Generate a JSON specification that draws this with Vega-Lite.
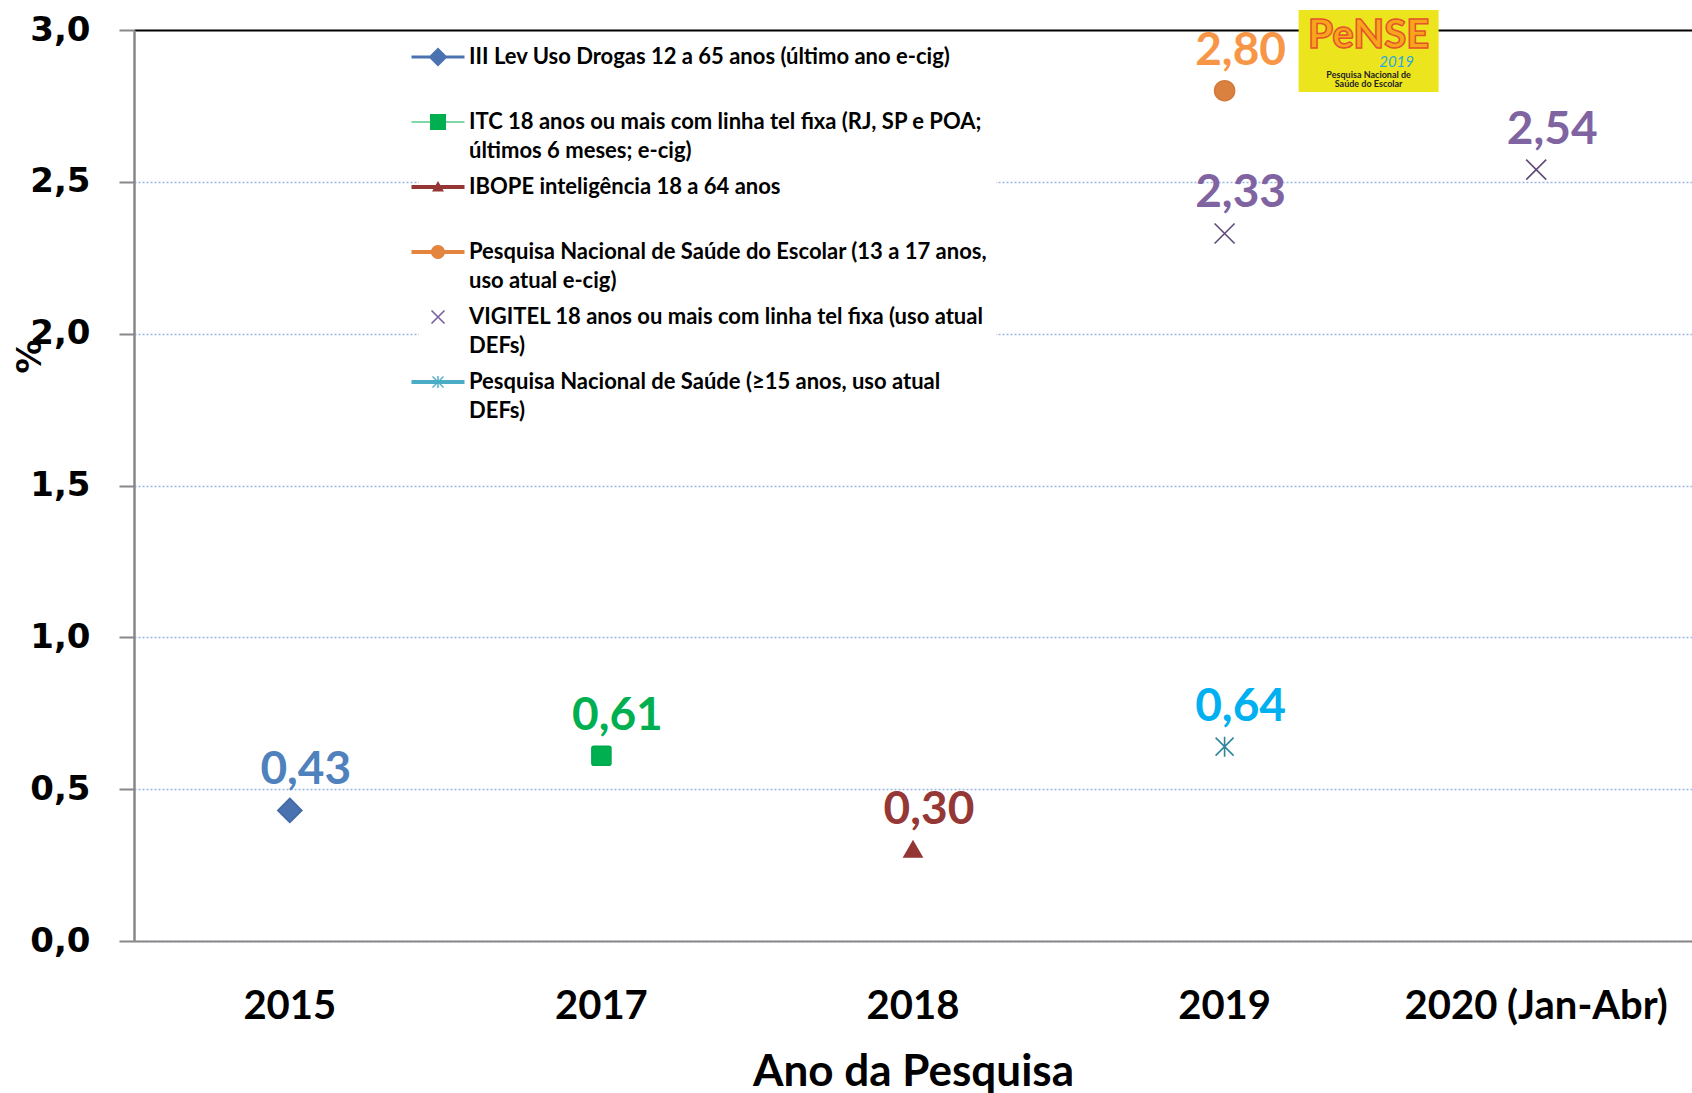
{
  "$schema": "https://vega.github.io/schema/vega-lite/v6.json",
  "width": 1558,
  "height": 911,
  "autosize": "none",
  "padding": {"left": 134, "top": 30, "right": 0, "bottom": 152},
  "background": "white",
  "config": {
    "view": {"stroke": null},
    "locale": {"number": {"decimal": ",", "thousands": ".", "grouping": [3], "currency": ["R$", ""]}},
    "style": {"guide-label": {"lineHeight": 29}}
  },
  "datasets": {
    "pontos": [
      {"ano": "2015", "serie": "III Lev Uso Drogas 12 a 65 anos (último ano e-cig)", "valor": 0.43},
      {"ano": "2017", "serie": "ITC 18 anos ou mais com linha tel fixa (RJ, SP e POA; últimos 6 meses; e-cig)", "valor": 0.61},
      {"ano": "2018", "serie": "IBOPE inteligência 18 a 64 anos", "valor": 0.30},
      {"ano": "2019", "serie": "Pesquisa Nacional de Saúde do Escolar (13 a 17 anos, uso atual e-cig)", "valor": 2.80},
      {"ano": "2019", "serie": "VIGITEL 18 anos ou mais com linha tel fixa (uso atual DEFs)", "valor": 2.33},
      {"ano": "2020 (Jan-Abr)", "serie": "VIGITEL 18 anos ou mais com linha tel fixa (uso atual DEFs)", "valor": 2.54},
      {"ano": "2019", "serie": "Pesquisa Nacional de Saúde (≥15 anos, uso atual DEFs)", "valor": 0.64}
    ],
    "logo": [
      {"ano": "2019", "topo": 3.066, "base": 2.796, "marca": "PeNSE", "edicao": "2019", "sub1": "Pesquisa Nacional de", "sub2": "Saúde do Escolar"}
    ]
  },
  "encoding": {
    "x": {
      "field": "ano", "type": "nominal",
      "scale": {"domain": ["2015", "2017", "2018", "2019", "2020 (Jan-Abr)"], "paddingInner": 0, "paddingOuter": 0},
      "axis": {
        "labelFont": "Lato", "labelFontSize": 40, "labelFontWeight": "bold", "labelColor": "black",
        "labelAngle": 0, "ticks": false, "labelPadding": 45, "labelLimit": 500,
        "domainColor": "#878787", "domainWidth": 2, "grid": false,
        "titleFont": "Lato", "titleFontSize": 44, "titleFontWeight": "bold", "titleColor": "black", "titlePadding": 24
      },
      "title": "Ano da Pesquisa"
    },
    "y": {
      "field": "valor", "type": "quantitative", "title": "%",
      "scale": {"domain": [0, 3]},
      "axis": {
        "values": [0, 0.5, 1, 1.5, 2, 2.5, 3], "format": ".1f",
        "labelFont": "DejaVu Sans", "labelFontWeight": "bold", "labelFontSize": 34, "labelColor": "black",
        "labelPadding": 29, "tickSize": 15, "tickColor": "#878787", "tickWidth": 2,
        "domainColor": "#878787", "domainWidth": 2.5,
        "grid": true,
        "gridColor": {"condition": {"test": "datum.value == 3", "value": "black"}, "value": "#9ab6e2"},
        "gridDash": {"condition": {"test": "datum.value == 3", "value": [1, 0]}, "value": [2, 2]},
        "gridWidth": {"condition": {"test": "datum.value == 3", "value": 2}, "value": 1.3},
        "titleFont": "DejaVu Sans", "titleFontSize": 34, "titleFontWeight": "bold", "titleColor": "black",
        "titleX": -104, "titleY": 326, "titleAlign": "center", "titleBaseline": "middle"
      }
    }
  },
  "resolve": {"scale": {"color": "independent", "shape": "independent", "fill": "independent", "stroke": "independent"}},
  "layer": [
    {
      "data": {"name": "pontos"},
      "mark": {"type": "point", "size": 400, "strokeWidth": 1.6, "opacity": 1},
      "encoding": {
        "shape": {
          "field": "serie", "type": "nominal", "legend": null,
          "scale": {
            "domain": ["III Lev Uso Drogas 12 a 65 anos (último ano e-cig)", "ITC 18 anos ou mais com linha tel fixa (RJ, SP e POA; últimos 6 meses; e-cig)", "IBOPE inteligência 18 a 64 anos", "Pesquisa Nacional de Saúde do Escolar (13 a 17 anos, uso atual e-cig)", "VIGITEL 18 anos ou mais com linha tel fixa (uso atual DEFs)", "Pesquisa Nacional de Saúde (≥15 anos, uso atual DEFs)"],
            "range": [
              "M0,-1.2L1.2,0L0,1.2L-1.2,0Z",
              "M-0.75,-0.95H0.75A0.2,0.2 0 0 1 0.95,-0.75V0.75A0.2,0.2 0 0 1 0.75,0.95H-0.75A0.2,0.2 0 0 1 -0.95,0.75V-0.75A0.2,0.2 0 0 1 -0.75,-0.95Z",
              "M0,-0.85L0.9,0.7H-0.9Z",
              "circle",
              "M-1,-1L1,1M-1,1L1,-1",
              "M0,-1V1M-0.9,-0.9L0.9,0.9M-0.9,0.9L0.9,-0.9"
            ]
          }
        },
        "fill": {
          "field": "serie", "type": "nominal", "legend": null,
          "scale": {
            "domain": ["III Lev Uso Drogas 12 a 65 anos (último ano e-cig)", "ITC 18 anos ou mais com linha tel fixa (RJ, SP e POA; últimos 6 meses; e-cig)", "IBOPE inteligência 18 a 64 anos", "Pesquisa Nacional de Saúde do Escolar (13 a 17 anos, uso atual e-cig)", "VIGITEL 18 anos ou mais com linha tel fixa (uso atual DEFs)", "Pesquisa Nacional de Saúde (≥15 anos, uso atual DEFs)"],
            "range": ["#4a72b0", "#00b050", "#943634", "#db8140", "transparent", "transparent"]
          }
        },
        "stroke": {
          "field": "serie", "type": "nominal", "legend": null,
          "scale": {
            "domain": ["III Lev Uso Drogas 12 a 65 anos (último ano e-cig)", "ITC 18 anos ou mais com linha tel fixa (RJ, SP e POA; últimos 6 meses; e-cig)", "IBOPE inteligência 18 a 64 anos", "Pesquisa Nacional de Saúde do Escolar (13 a 17 anos, uso atual e-cig)", "VIGITEL 18 anos ou mais com linha tel fixa (uso atual DEFs)", "Pesquisa Nacional de Saúde (≥15 anos, uso atual DEFs)"],
            "range": ["#4169a6", "#00a84c", "#943634", "#d27a3a", "#604a7b", "#31859c"]
          }
        }
      }
    },
    {
      "data": {"name": "pontos"},
      "mark": {"type": "point", "size": 400, "filled": true, "opacity": 0},
      "encoding": {
        "color": {
          "field": "serie", "type": "nominal",
          "scale": {
            "domain": ["III Lev Uso Drogas 12 a 65 anos (último ano e-cig)", "ITC 18 anos ou mais com linha tel fixa (RJ, SP e POA; últimos 6 meses; e-cig)", "IBOPE inteligência 18 a 64 anos", "Pesquisa Nacional de Saúde do Escolar (13 a 17 anos, uso atual e-cig)", "VIGITEL 18 anos ou mais com linha tel fixa (uso atual DEFs)", "Pesquisa Nacional de Saúde (≥15 anos, uso atual DEFs)"],
            "range": ["#4a72b0", "#00b050", "#943634", "#e3843f", "#7a5fa0", "#4bacc6"]
          },
          "legend": {
            "orient": "none", "legendX": 285, "legendY": 8, "padding": 8, "fillColor": "white", "title": null,
            "labelFont": "Lato", "labelFontSize": 22, "labelFontWeight": "bold", "labelColor": "black", "labelLimit": 700,
            "labelOffset": 20, "symbolSize": 400, "symbolOpacity": 1, "symbolStrokeWidth": 0, "rowPadding": 14,
            "labelExpr": "length(datum.label) > 50 ? [substring(datum.label, 0, lastindexof(substring(datum.label, 0, 54), ' ')), substring(datum.label, lastindexof(substring(datum.label, 0, 54), ' ') + 1)] : [datum.label, ' ']"
          }
        },
        "shape": {
          "field": "serie", "type": "nominal",
          "scale": {
            "domain": ["III Lev Uso Drogas 12 a 65 anos (último ano e-cig)", "ITC 18 anos ou mais com linha tel fixa (RJ, SP e POA; últimos 6 meses; e-cig)", "IBOPE inteligência 18 a 64 anos", "Pesquisa Nacional de Saúde do Escolar (13 a 17 anos, uso atual e-cig)", "VIGITEL 18 anos ou mais com linha tel fixa (uso atual DEFs)", "Pesquisa Nacional de Saúde (≥15 anos, uso atual DEFs)"],
            "range": [
              "M-2.65,-0.15H2.65V0.15H-2.65Z M0,-0.95L0.95,0L0,0.95L-0.95,0Z",
              "M-2.65,-0.05H2.65V0.05H-2.65Z M-0.8,-0.8H0.8V0.8H-0.8Z",
              "M-2.65,-0.2H2.65V0.2H-2.65Z M0,-0.6L0.6,0.45H-0.6Z",
              "M-2.65,-0.2H2.65V0.2H-2.65Z M-0.7,0A0.7,0.7 0 1,1 0.7,0A0.7,0.7 0 1,1 -0.7,0Z",
              "M-0.593,-0.707L0.707,0.593L0.593,0.707L-0.707,-0.593Z M-0.593,0.707L-0.707,0.593L0.593,-0.707L0.707,-0.593Z",
              "M-2.65,-0.2H2.65V0.2H-2.65Z M-0.07,-0.6H0.07V0.6H-0.07Z M-0.5005,-0.5995L0.5995,0.5005L0.5005,0.5995L-0.5995,-0.5005Z M-0.5005,0.5995L-0.5995,0.5005L0.5005,-0.5995L0.5995,-0.5005Z"
            ]
          },
          "legend": {
            "orient": "none", "legendX": 285, "legendY": 8, "padding": 8, "fillColor": "white", "title": null,
            "labelFont": "Lato", "labelFontSize": 22, "labelFontWeight": "bold", "labelColor": "black", "labelLimit": 700,
            "labelOffset": 20, "symbolSize": 400, "symbolOpacity": 1, "symbolStrokeWidth": 0, "rowPadding": 14,
            "labelExpr": "length(datum.label) > 50 ? [substring(datum.label, 0, lastindexof(substring(datum.label, 0, 54), ' ')), substring(datum.label, lastindexof(substring(datum.label, 0, 54), ' ') + 1)] : [datum.label, ' ']"
          }
        }
      }
    },
    {
      "data": {"name": "pontos"},
      "mark": {"type": "text", "dx": 16, "dy": -40, "font": "Lato", "fontSize": 46, "fontWeight": "bold", "baseline": "middle", "align": "center"},
      "encoding": {
        "text": {"field": "valor", "type": "quantitative", "format": ".2f"},
        "color": {
          "field": "serie", "type": "nominal", "legend": null,
          "scale": {
            "domain": ["III Lev Uso Drogas 12 a 65 anos (último ano e-cig)", "ITC 18 anos ou mais com linha tel fixa (RJ, SP e POA; últimos 6 meses; e-cig)", "IBOPE inteligência 18 a 64 anos", "Pesquisa Nacional de Saúde do Escolar (13 a 17 anos, uso atual e-cig)", "VIGITEL 18 anos ou mais com linha tel fixa (uso atual DEFs)", "Pesquisa Nacional de Saúde (≥15 anos, uso atual DEFs)"],
            "range": ["#4f81bd", "#00b050", "#953735", "#f79646", "#8064a2", "#00b0f0"]
          }
        }
      }
    },
    {
      "data": {"name": "logo"},
      "mark": {"type": "bar", "width": 140, "xOffset": 144, "color": "#ece51e"},
      "encoding": {
        "y": {"field": "topo", "type": "quantitative", "title": "%", "scale": {"domain": [0, 3]}},
        "y2": {"field": "base"}
      }
    },
    {
      "data": {"name": "logo"},
      "mark": {"type": "text", "dx": 144, "dy": 26, "font": "Lato", "fontSize": 40, "fontWeight": 900, "fill": "#f9a51c", "stroke": "#e4532b", "strokeWidth": 1.5, "baseline": "middle", "align": "center"},
      "encoding": {
        "y": {"field": "topo", "type": "quantitative", "title": "%", "scale": {"domain": [0, 3]}},
        "text": {"field": "marca"}
      }
    },
    {
      "data": {"name": "logo"},
      "mark": {"type": "text", "dx": 172, "dy": 52, "font": "Lato", "fontSize": 15, "fontStyle": "italic", "fill": "#2aa8df", "baseline": "middle", "align": "center"},
      "encoding": {
        "y": {"field": "topo", "type": "quantitative", "title": "%", "scale": {"domain": [0, 3]}},
        "text": {"field": "edicao"}
      }
    },
    {
      "data": {"name": "logo"},
      "mark": {"type": "text", "dx": 144, "dy": 65, "font": "Lato", "fontSize": 9, "fontWeight": "bold", "fill": "#222", "baseline": "middle", "align": "center"},
      "encoding": {
        "y": {"field": "topo", "type": "quantitative", "title": "%", "scale": {"domain": [0, 3]}},
        "text": {"field": "sub1"}
      }
    },
    {
      "data": {"name": "logo"},
      "mark": {"type": "text", "dx": 144, "dy": 74, "font": "Lato", "fontSize": 9, "fontWeight": "bold", "fill": "#222", "baseline": "middle", "align": "center"},
      "encoding": {
        "y": {"field": "topo", "type": "quantitative", "title": "%", "scale": {"domain": [0, 3]}},
        "text": {"field": "sub2"}
      }
    }
  ]
}
